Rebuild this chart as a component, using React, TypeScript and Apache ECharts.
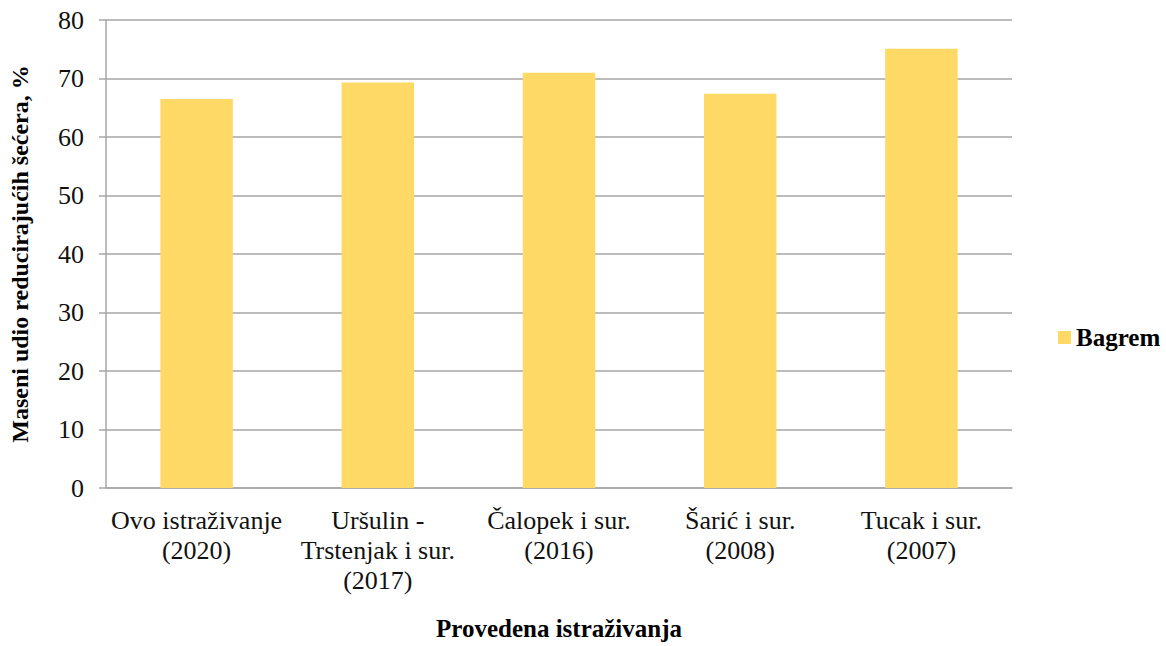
import React, { useEffect, useRef } from "react";
import * as echarts from "echarts";

const categories = [
  "Ovo istraživanje\n(2020)",
  "Uršulin -\nTrstenjak i sur.\n(2017)",
  "Čalopek i sur.\n(2016)",
  "Šarić i sur.\n(2008)",
  "Tucak i sur.\n(2007)",
];
const seriesName = "Bagrem";
const values = [66.5, 69.3, 71.0, 67.4, 75.1];
const yTicks = { min: 0, max: 80, interval: 10 };
const yTitle = "Maseni udio reducirajućih šećera, %";
const xTitle = "Provedena istraživanja";

const FONT = "Liberation Serif";

export default function App() {
  const ref = useRef<HTMLDivElement>(null);
  useEffect(() => {
    if (!ref.current) return;
    const chart = echarts.init(ref.current, undefined, { renderer: "svg" });
    chart.setOption({
      animation: false,
      backgroundColor: "#ffffff",
      textStyle: { fontFamily: FONT, color: "#000" },
      grid: { left: 106, right: 154, top: 20, bottom: 153, containLabel: false },
      legend: {
        data: [seriesName],
        left: 1053,
        top: 320,
        itemWidth: 13,
        itemHeight: 13,
        itemGap: 6,
        icon: "rect",
        textStyle: { fontFamily: FONT, fontSize: 25, fontWeight: "bold", color: "#000" },
      },
      xAxis: {
        type: "category",
        data: categories,
        name: xTitle,
        nameLocation: "middle",
        nameGap: 128,
        nameTextStyle: { fontFamily: FONT, fontSize: 25, fontWeight: "bold", color: "#000" },
        axisLine: { lineStyle: { color: "#A6A6A6", width: 1.5 } },
        axisTick: { show: false },
        axisLabel: {
          interval: 0,
          margin: 17,
          fontFamily: FONT,
          fontSize: 26,
          lineHeight: 30,
          color: "#111",
        },
      },
      yAxis: {
        type: "value",
        min: yTicks.min,
        max: yTicks.max,
        interval: yTicks.interval,
        name: yTitle,
        nameLocation: "middle",
        nameGap: 74,
        nameTextStyle: { fontFamily: FONT, fontSize: 24, fontWeight: "bold", color: "#000" },
        axisLine: { show: true, lineStyle: { color: "#A6A6A6", width: 1.5 } },
        axisTick: { show: true, length: 7, lineStyle: { color: "#A6A6A6", width: 1.5 } },
        axisLabel: { margin: 22, fontFamily: FONT, fontSize: 26, color: "#111" },
        splitLine: { show: true, lineStyle: { color: "#A6A6A6", width: 1.5 } },
      },
      series: [
        {
          name: seriesName,
          type: "bar",
          data: values,
          barWidth: "40%",
          itemStyle: { color: "#FFD966" },
        },
      ],
    });
    return () => chart.dispose();
  }, []);
  return (
    <div
      ref={ref}
      style={{ position: "fixed", left: 0, top: 0, width: 1166, height: 646 }}
    />
  );
}
